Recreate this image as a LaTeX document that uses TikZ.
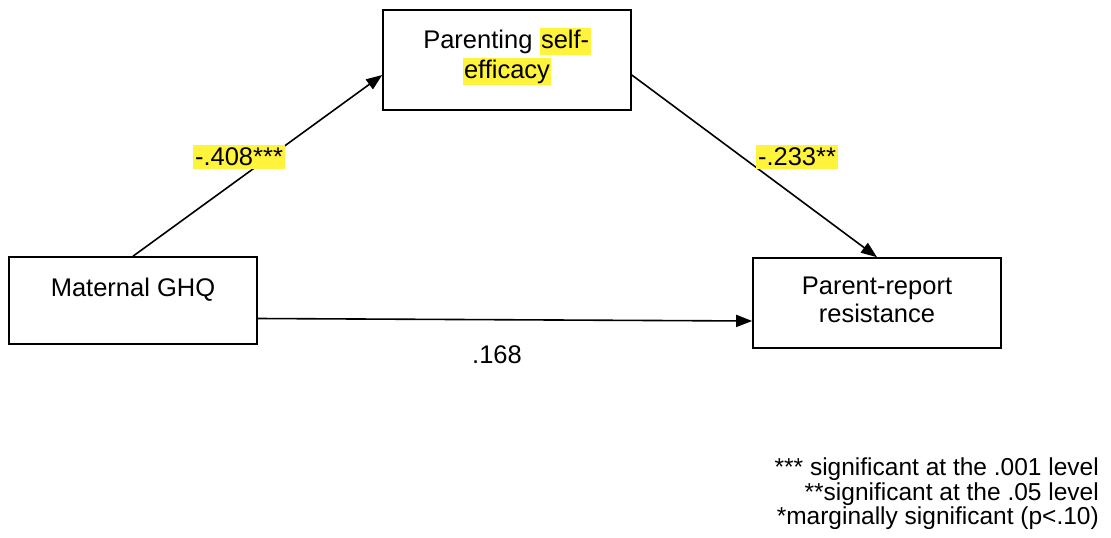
\documentclass[tikz,border=0pt]{standalone}
\usepackage{fontspec}
\setmainfont{Liberation Sans}
\usetikzlibrary{arrows.meta,calc}
\definecolor{hlyellow}{RGB}{255,243,60}
\newcommand\hlt[1]{{\setlength{\fboxsep}{1.5pt}\colorbox{hlyellow}{\vphantom{Pfy}#1}}}
\newcommand\bigtext{\fontsize{25.5}{30}\selectfont}
\tikzset{
  varbox/.style={draw, line width=1.6pt, minimum width=248pt, inner sep=0pt},
  vartext/.style={font=\bigtext, align=center, inner sep=0pt},
  path/.style={line width=1.6pt, -{Triangle[length=16pt,width=12pt]}},
  coef/.style={font=\bigtext, inner xsep=2pt, inner ysep=3pt},
  legend/.style={font=\fontsize{24.5}{24.5}\selectfont, align=right, anchor=north east, inner sep=0pt}
}
\begin{document}
\begin{tikzpicture}[x=1pt,y=-1pt]
  \useasboundingbox (0,0) rectangle (1111,538);

  % variables
  \node[varbox, minimum height=100pt] (pse) at (507,60) {};
  \node[vartext, anchor=north] (psetxt) at (507,28) {Parenting \hlt{self-}\\[0pt]\hlt{efficacy}};
  \node[varbox, minimum height=87pt] (ghq) at (133,300.5) {};
  \node[vartext] (ghqtxt) at (133,290) {Maternal GHQ};
  \node[varbox, minimum height=90pt] (res) at (877,303) {};
  \node[vartext, anchor=north, font=\fontsize{25.5}{28}\selectfont] (restxt) at (877,277) {Parent-report\\resistance};

  % paths
  \coordinate (aIn) at ($(pse.west)+(0,15)$);
  \coordinate (bOut) at ($(pse.east)+(0,15)$);
  \coordinate (cOut) at ($(ghq.east)+(0,18)$);
  \coordinate (cIn) at ($(res.west)+(0,18)$);
  \draw[path] (ghq.north) -- (aIn);
  \draw[path] (bOut) -- (res.north);
  \draw[path] (cOut) -- (cIn);

  % coefficients
  \node[coef, fill=hlyellow] (a) at (239,157) {-.408***};
  \node[coef, fill=hlyellow] (b) at (797,157) {-.233**};
  \node[coef] (c) at (497,355) {.168};

  % significance key
  \node[legend] (key) at (1099,458) {*** significant at the .001 level\\**significant at the .05 level\\*marginally significant (p<.10)};
\end{tikzpicture}
\end{document}
